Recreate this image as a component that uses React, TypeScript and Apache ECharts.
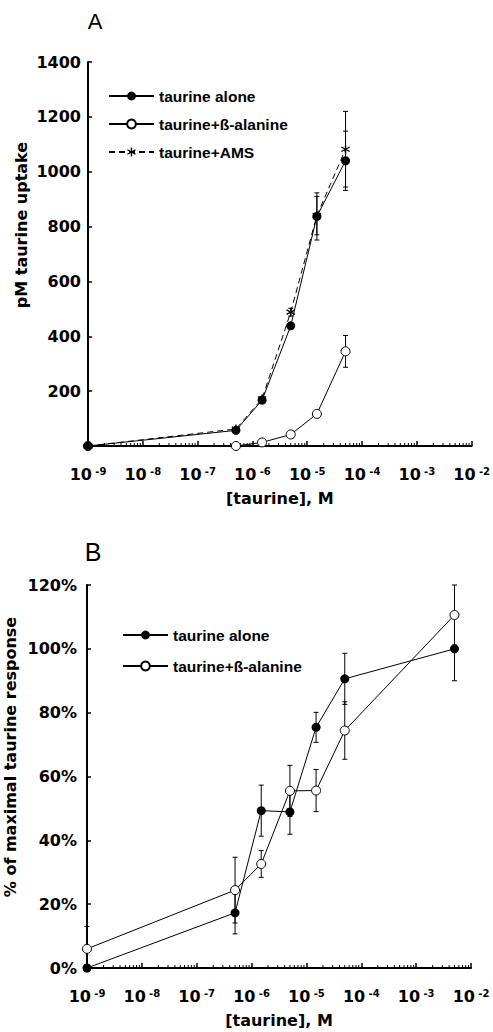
import React, { useEffect, useRef } from "react";
import * as echarts from "echarts";

// ---------- data ----------
const CONC_A = [1e-9, 5e-7, 1.5e-6, 5e-6, 1.5e-5, 5e-5];
const ALONE_A = [0, 57, 167, 438, 837, 1040];
const ALONE_A_ERR = [0, 4, 6, 10, 86, 108];
const BALA_A = [0, 0, 13, 42, 117, 345];
const BALA_A_ERR = [0, 3, 4, 5, 7, 58];
const AMS_A = [0, 62, 172, 488, 840, 1082];
const AMS_A_ERR = [0, 4, 6, 14, 70, 138];

const CONC_B = [1e-9, 5e-7, 1.5e-6, 5e-6, 1.5e-5, 5e-5, 5e-3];
const ALONE_B = [0, 17.3, 49.3, 48.9, 75.4, 90.6, 100];
const ALONE_B_ERR = [0, 6.6, 8, 7, 4.7, 8, 10];
const BALA_B = [6, 24.4, 32.6, 55.5, 55.6, 74.4, 110.6];
const BALA_B_ERR = [7, 10.3, 4.2, 8, 6.6, 9, 9.4];

const X_MIN_EXP = -9;
const X_MAX_EXP = -2;
const MINOR_FACTORS = [2, 3, 4, 5, 6, 7, 8, 9];

const NAME_ALONE = "taurine alone";
const NAME_BALA = "taurine+ß-alanine";
const NAME_AMS = "taurine+AMS";

const STAR_PATH =
  "path://M4.3 0 L5.7 0 L5.7 10 L4.3 10 Z M9.68 6.89 L8.98 8.11 L0.32 3.11 L1.02 1.89 Z M1.02 8.11 L0.32 6.89 L8.98 1.89 L9.68 3.11 Z";

const TICK_FONT = "DejaVu Sans";
const LEGEND_FONT = "Liberation Sans";

function pts(conc: number[], vals: number[]) {
  return conc.map((c, i) => [Math.log10(c), vals[i]]);
}
function errs(conc: number[], vals: number[], err: number[]) {
  return conc
    .map((c, i) => [Math.log10(c), vals[i] - err[i], vals[i] + err[i], err[i]])
    .filter((d) => d[3] > 0);
}
function minorTicks() {
  const out: number[][] = [];
  for (let e = X_MIN_EXP; e < X_MAX_EXP; e++) {
    MINOR_FACTORS.forEach((f) => out.push([e + Math.log10(f), 0]));
  }
  return out;
}

function errorRender(params: any, api: any) {
  const x = api.value(0);
  const lo = api.coord([x, api.value(1)]);
  const hi = api.coord([x, api.value(2)]);
  const w = 2.5;
  const st = { stroke: "#000", lineWidth: 1 };
  return {
    type: "group",
    children: [
      { type: "line", shape: { x1: hi[0], y1: hi[1], x2: lo[0], y2: lo[1] }, style: st },
      { type: "line", shape: { x1: hi[0] - w, y1: hi[1], x2: hi[0] + w, y2: hi[1] }, style: st },
      { type: "line", shape: { x1: lo[0] - w, y1: lo[1], x2: lo[0] + w, y2: lo[1] }, style: st },
    ],
  };
}

function minorRender(params: any, api: any) {
  const p = api.coord([api.value(0), api.value(1)]);
  return {
    type: "line",
    shape: { x1: p[0], y1: p[1], x2: p[0], y2: p[1] - 3 },
    style: { stroke: "#000", lineWidth: 1 },
  };
}

function xAxisCfg(gridIndex: number) {
  return {
    type: "value",
    gridIndex,
    min: X_MIN_EXP,
    max: X_MAX_EXP,
    interval: 1,
    name: "[taurine], M",
    nameLocation: "middle",
    nameGap: 44,
    nameTextStyle: { fontFamily: TICK_FONT, fontWeight: "bold", fontSize: 16, color: "#000" },
    axisLine: { onZero: false, lineStyle: { color: "#000", width: 2 } },
    axisTick: { inside: true, length: 5, lineStyle: { color: "#000", width: 1.5 } },
    splitLine: { show: false },
    axisLabel: {
      margin: 20,
      formatter: (v: number) => "{a|10} {b|" + Math.round(v) + "}",
      rich: {
        a: { fontFamily: TICK_FONT, fontWeight: "bold", fontSize: 16, color: "#000" },
        b: {
          fontFamily: TICK_FONT,
          fontWeight: "bold",
          fontSize: 10,
          color: "#000",
          verticalAlign: "top",
        },
      },
    },
  };
}

function lineSeries(name: string, data: number[][], xi: number, opts: any) {
  return {
    type: "line",
    name,
    xAxisIndex: xi,
    yAxisIndex: xi,
    data,
    clip: false,
    symbolSize: 9,
    showAllSymbol: true,
    lineStyle: { color: "#000", width: 1, ...(opts.lineStyle || {}) },
    itemStyle: opts.itemStyle,
    symbol: opts.symbol || "circle",
    z: opts.z || 3,
  };
}

function errSeries(data: number[][], xi: number) {
  return {
    type: "custom",
    xAxisIndex: xi,
    yAxisIndex: xi,
    data,
    clip: false,
    renderItem: errorRender,
    z: 1,
    silent: true,
  };
}

export default function App() {
  const ref = useRef<HTMLDivElement>(null);
  useEffect(() => {
    document.body.style.margin = "0";
    const chart = echarts.init(ref.current!, null, { renderer: "svg" });
    const filled = { color: "#000" };
    const open = { color: "#fff", borderColor: "#000", borderWidth: 1 };
    const legendText = { fontFamily: LEGEND_FONT, fontWeight: "bold", fontSize: 15.5, color: "#000" };
    const plainNum = (v: number) => String(v);
    chart.setOption({
      animation: false,
      backgroundColor: "#fff",
      grid: [
        { left: 88, top: 62, width: 384, height: 384 },
        { left: 87, top: 585, width: 384, height: 383 },
      ],
      xAxis: [xAxisCfg(0), xAxisCfg(1)],
      yAxis: [
        {
          type: "value",
          gridIndex: 0,
          min: 0,
          max: 1400,
          interval: 200,
          axisLine: { show: true, lineStyle: { color: "#000", width: 2 } },
          axisTick: { show: true, inside: true, length: 4, lineStyle: { color: "#000", width: 1.5 } },
          splitLine: { show: false },
          axisLabel: {
            showMinLabel: false,
            margin: 7,
            formatter: plainNum,
            fontFamily: TICK_FONT,
            fontWeight: "bold",
            fontSize: 16,
            color: "#000",
          },
        },
        {
          type: "value",
          gridIndex: 1,
          min: 0,
          max: 120,
          interval: 20,
          axisLine: { show: true, lineStyle: { color: "#000", width: 2 } },
          axisTick: { show: true, inside: true, length: 4, lineStyle: { color: "#000", width: 1.5 } },
          splitLine: { show: false },
          axisLabel: {
            margin: 10,
            formatter: "{value}%",
            fontFamily: TICK_FONT,
            fontWeight: "bold",
            fontSize: 16,
            color: "#000",
          },
        },
      ],
      legend: [
        {
          data: [NAME_ALONE, NAME_BALA, NAME_AMS],
          orient: "vertical",
          left: 108,
          top: 88,
          padding: 0,
          itemWidth: 45,
          itemHeight: 11,
          itemGap: 12,
          selectedMode: false,
          textStyle: legendText,
        },
        {
          data: [NAME_ALONE, NAME_BALA],
          orient: "vertical",
          left: 122,
          top: 627,
          padding: 0,
          itemWidth: 45,
          itemHeight: 11,
          itemGap: 15,
          selectedMode: false,
          textStyle: legendText,
        },
      ],
      graphic: [
        {
          type: "text",
          x: 95,
          y: 21,
          style: { text: "A", fontFamily: LEGEND_FONT, fontSize: 22, fill: "#000", align: "center", verticalAlign: "middle" },
        },
        {
          type: "text",
          x: 93,
          y: 552,
          style: { text: "B", fontFamily: LEGEND_FONT, fontSize: 25, fill: "#000", align: "center", verticalAlign: "middle" },
        },
        {
          type: "text",
          x: 21.5,
          y: 225,
          rotation: Math.PI / 2,
          style: {
            text: "pM taurine uptake",
            fontFamily: TICK_FONT,
            fontWeight: "bold",
            fontSize: 16,
            fill: "#000",
            align: "center",
            verticalAlign: "middle",
          },
        },
        {
          type: "text",
          x: 10,
          y: 757,
          rotation: Math.PI / 2,
          style: {
            text: "% of maximal taurine response",
            fontFamily: TICK_FONT,
            fontWeight: "bold",
            fontSize: 16,
            fill: "#000",
            align: "center",
            verticalAlign: "middle",
          },
        },
      ],
      series: [
        // minor ticks
        {
          type: "custom",
          xAxisIndex: 0,
          yAxisIndex: 0,
          data: minorTicks(),
          clip: false,
          silent: true,
          renderItem: minorRender,
        },
        {
          type: "custom",
          xAxisIndex: 1,
          yAxisIndex: 1,
          data: minorTicks(),
          clip: false,
          silent: true,
          renderItem: minorRender,
        },
        // error bars
        errSeries(errs(CONC_A, AMS_A, AMS_A_ERR), 0),
        errSeries(errs(CONC_A, ALONE_A, ALONE_A_ERR), 0),
        errSeries(errs(CONC_A, BALA_A, BALA_A_ERR), 0),
        errSeries(errs(CONC_B, ALONE_B, ALONE_B_ERR), 1),
        errSeries(errs(CONC_B, BALA_B, BALA_B_ERR), 1),
        // panel A
        lineSeries(NAME_AMS, pts(CONC_A, AMS_A), 0, {
          symbol: STAR_PATH,
          itemStyle: filled,
          lineStyle: { type: [6, 4] },
          z: 2,
        }),
        lineSeries(NAME_BALA, pts(CONC_A, BALA_A), 0, { itemStyle: open, z: 3 }),
        lineSeries(NAME_ALONE, pts(CONC_A, ALONE_A), 0, { itemStyle: filled, z: 4 }),
        // panel B
        lineSeries(NAME_BALA, pts(CONC_B, BALA_B), 1, { itemStyle: open, z: 3 }),
        lineSeries(NAME_ALONE, pts(CONC_B, ALONE_B), 1, { itemStyle: filled, z: 4 }),
      ],
    });
    return () => chart.dispose();
  }, []);
  return <div ref={ref} style={{ width: 493, height: 1032 }} />;
}
